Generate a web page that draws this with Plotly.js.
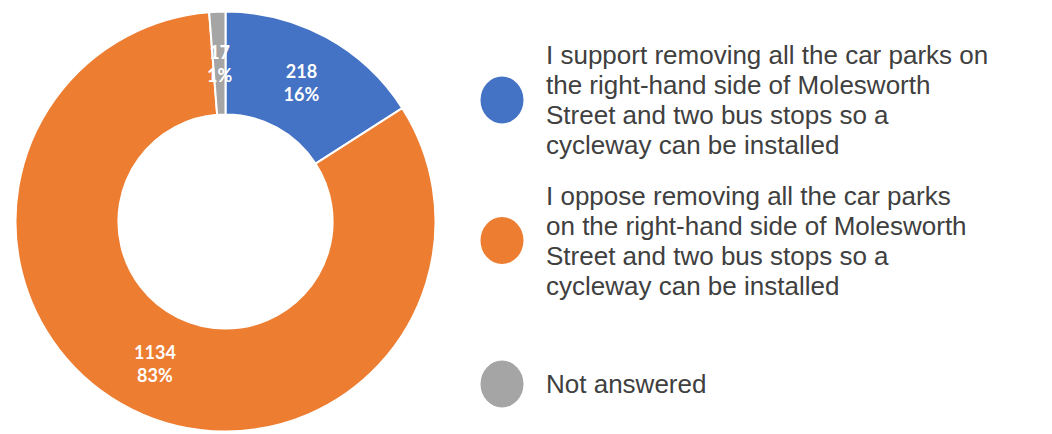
<!DOCTYPE html>
<html>
<head>
<meta charset="utf-8">
<script src="https://cdn.plot.ly/plotly-3.0.1.min.js"></script>
<style>html,body{margin:0;padding:0;background:#fff;}#chart{width:1052px;height:434px;}</style>
</head>
<body>
<div id="chart"></div>
<script>
const categories = [
  "I support removing all the car parks on the right-hand side of Molesworth Street and two bus stops so a cycleway can be installed",
  "I oppose removing all the car parks on the right-hand side of Molesworth Street and two bus stops so a cycleway can be installed",
  "Not answered"
];
const values = [218, 1134, 17];
const colors = ["#4472C4", "#ED7D31", "#A5A5A5"];
const legendLines = [
  ["I support removing all the car parks on", "the right-hand side of Molesworth", "Street and two bus stops so a", "cycleway can be installed"],
  ["I oppose removing all the car parks", "on the right-hand side of Molesworth", "Street and two bus stops so a", "cycleway can be installed"],
  ["Not answered"]
];

const W = 1052, H = 434;
const px = x => x / W;
const py = y => 1 - y / H;

// legend layout (pixels)
const legendCircleCx = 502, legendRx = 21.5, legendRy = 23.5;
const legendCenters = [100, 240.5, 384];
const legendTextX = 544, lineGap = 30;
const labelFont = {family: 'Lato, sans-serif', size: 18, color: '#ffffff', weight: 'bold'};

const shapes = [];
const annotations = [];
legendLines.forEach((lines, i) => {
  const cy = legendCenters[i];
  shapes.push({
    type: 'circle', xref: 'paper', yref: 'paper',
    x0: px(legendCircleCx - legendRx), x1: px(legendCircleCx + legendRx),
    y0: py(cy + legendRy), y1: py(cy - legendRy),
    fillcolor: colors[i], line: {width: 0}
  });
  const n = lines.length;
  lines.forEach((t, j) => {
    const yc = cy + (j - (n - 1) / 2) * lineGap;
    annotations.push({
      xref: 'paper', yref: 'paper', x: px(legendTextX), y: py(yc),
      xanchor: 'left', yanchor: 'middle', showarrow: false, align: 'left',
      text: t, font: {family: 'Arial, Liberation Sans, sans-serif', size: 26, color: '#404040'}
    });
  });
});

const cx = 225.5, cy = 221.5, R = 210, hole = 0.51;
const total = values.reduce((a, b) => a + b, 0);

// Tiny slice: Plotly would shrink its label, so place it at the slice's mid-angle on the ring
const smallIdx = 2;
const before = values.slice(0, smallIdx).reduce((a, b) => a + b, 0);
const midFrac = (before + values[smallIdx] / 2) / total;
const ang = midFrac * 2 * Math.PI; // clockwise from 12 o'clock
const rMid = R * (1 + hole) / 2;
annotations.push({
  xref: 'paper', yref: 'paper',
  x: px(cx + rMid * Math.sin(ang)), y: py(cy - rMid * Math.cos(ang)),
  xanchor: 'center', yanchor: 'middle', showarrow: false, align: 'center',
  text: values[smallIdx] + '<br>' + Math.round(values[smallIdx] / total * 100) + '%',
  font: labelFont
});

const trace = {
  type: 'pie',
  labels: categories,
  values: values,
  marker: {colors: colors, line: {color: '#ffffff', width: 2}},
  hole: hole,
  sort: false,
  direction: 'clockwise',
  rotation: 0,
  texttemplate: '%{value}<br>%{percent:.0%}',
  textposition: ['inside', 'inside', 'none'],
  insidetextorientation: 'horizontal',
  textfont: labelFont,
  domain: {x: [px(cx - R), px(cx + R)], y: [py(cy + R), py(cy - R)]},
  showlegend: false,
  hoverinfo: 'label+value+percent'
};

const layout = {
  width: W, height: H,
  margin: {l: 0, r: 0, t: 0, b: 0},
  paper_bgcolor: '#ffffff',
  plot_bgcolor: '#ffffff',
  showlegend: false,
  uniformtext: {mode: 'show', minsize: 18},
  shapes: shapes,
  annotations: annotations
};

Plotly.newPlot('chart', [trace], layout, {displayModeBar: false, staticPlot: true});
</script>
</body>
</html>
